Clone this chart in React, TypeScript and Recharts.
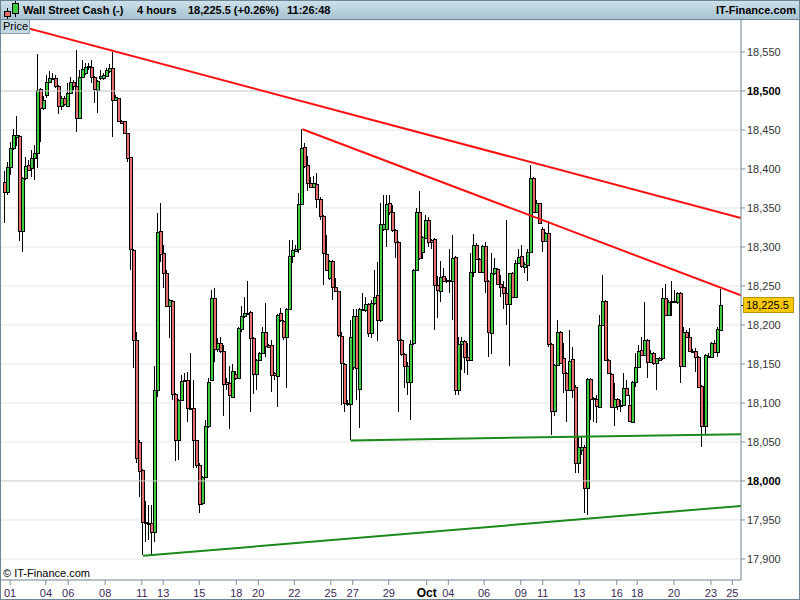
import React from 'react';
import { ComposedChart, Bar, XAxis, YAxis, CartesianGrid, ReferenceLine } from 'recharts';

// Wall Street Cash, 4 hour candles, 1 Sep -> 25 Oct
const opens = [
  18383, 18370, 18402, 18427, 18441, 18442, 18320, 18388, 18405, 18401,
  18414, 18421, 18502, 18478, 18495, 18512, 18517, 18517, 18506, 18481,
  18491, 18481, 18498, 18512, 18506, 18465, 18518, 18523, 18531, 18531,
  18518, 18501, 18516, 18516, 18519, 18525, 18530, 18489, 18491, 18462,
  18461, 18446, 18415, 18296, 18181, 18050, 18014, 17948, 17946, 17946,
  17935, 18116, 18320, 18292, 18267, 18224, 18231, 18111, 18053, 18104,
  18129, 18130, 18094, 18093, 18052, 18021, 17972, 18005, 18070, 18129,
  18234, 18169, 18177, 18166, 18127, 18125, 18108, 18137, 18132, 18195,
  18211, 18215, 18216, 18183, 18137, 18155, 18164, 18191, 18174, 18174,
  18138, 18135, 18215, 18205, 18184, 18221, 18288, 18295, 18297, 18355,
  18428, 18405, 18382, 18377, 18381, 18362, 18340, 18291, 18260, 18282,
  18249, 18243, 18186, 18150, 18100, 18099, 18146, 18211, 18118, 18220,
  18219, 18227, 18190, 18228, 18238, 18206, 18323, 18323, 18356, 18345,
  18322, 18306, 18181, 18163, 18127, 18127, 18177, 18271, 18345, 18294,
  18312, 18334, 18309, 18310, 18251, 18244, 18263, 18258, 18258, 18257,
  18287, 18117, 18175, 18179, 18159, 18155, 18268, 18303, 18284, 18268,
  18301, 18256, 18190, 18266, 18272, 18253, 18249, 18241, 18227, 18266,
  18236, 18280, 18288, 18274, 18277, 18294, 18388, 18345, 18356, 18323,
  18308, 18318, 18176, 18090, 18149, 18191, 18157, 18138, 18117, 18156,
  18121, 18023, 18040, 18044, 17991, 18131, 18106, 18105, 18095, 18200,
  18231, 18155, 18137, 18095, 18105, 18097, 18097, 18119, 18098, 18076,
  18127, 18146, 18168, 18162, 18181, 18153, 18164, 18151, 18157, 18157,
  18235, 18213, 18229, 18229, 18229, 18241, 18147, 18191, 18185, 18167,
  18167, 18159, 18122, 18070, 18160, 18159, 18177, 18165, 18193,
];
const highs = [
  18397, 18409, 18435, 18451, 18468, 18444, 18390, 18415, 18411, 18424,
  18431, 18547, 18504, 18493, 18521, 18525, 18523, 18521, 18508, 18493,
  18494, 18510, 18518, 18514, 18553, 18527, 18540, 18536, 18536, 18540,
  18519, 18514, 18527, 18523, 18529, 18534, 18550, 18495, 18491, 18463,
  18462, 18446, 18415, 18297, 18191, 18053, 18015, 17974, 17969, 17969,
  18147, 18343, 18356, 18303, 18271, 18233, 18232, 18113, 18105, 18136,
  18138, 18140, 18164, 18130, 18053, 18023, 18006, 18078, 18132, 18245,
  18248, 18183, 18185, 18174, 18132, 18147, 18150, 18141, 18197, 18224,
  18236, 18257, 18218, 18185, 18156, 18165, 18198, 18228, 18176, 18181,
  18140, 18214, 18222, 18206, 18222, 18309, 18309, 18303, 18369, 18451,
  18433, 18417, 18390, 18391, 18395, 18364, 18341, 18315, 18283, 18283,
  18260, 18244, 18191, 18151, 18104, 18206, 18221, 18221, 18222, 18241,
  18236, 18228, 18232, 18271, 18281, 18357, 18367, 18367, 18367, 18354,
  18323, 18308, 18182, 18164, 18153, 18181, 18272, 18350, 18372, 18314,
  18341, 18339, 18310, 18311, 18263, 18282, 18273, 18260, 18298, 18315,
  18288, 18185, 18185, 18181, 18177, 18292, 18317, 18305, 18286, 18303,
  18307, 18258, 18292, 18286, 18273, 18264, 18256, 18335, 18267, 18268,
  18283, 18298, 18303, 18281, 18298, 18405, 18390, 18360, 18357, 18326,
  18319, 18333, 18177, 18150, 18206, 18192, 18177, 18140, 18194, 18172,
  18123, 18058, 18058, 18046, 18132, 18132, 18108, 18110, 18213, 18264,
  18232, 18156, 18138, 18125, 18106, 18104, 18138, 18129, 18110, 18128,
  18164, 18174, 18185, 18229, 18182, 18168, 18165, 18158, 18159, 18247,
  18253, 18232, 18257, 18245, 18242, 18242, 18198, 18193, 18196, 18169,
  18171, 18160, 18123, 18163, 18164, 18178, 18181, 18197, 18246,
];
const lows = [
  18331, 18367, 18392, 18424, 18429, 18308, 18294, 18386, 18397, 18390,
  18386, 18401, 18435, 18476, 18491, 18510, 18514, 18504, 18471, 18476,
  18481, 18479, 18497, 18501, 18448, 18464, 18517, 18521, 18527, 18510,
  18484, 18472, 18514, 18514, 18518, 18523, 18441, 18487, 18460, 18458,
  18445, 18409, 18271, 18145, 18023, 17980, 17905, 17922, 17924, 17905,
  17922, 18108, 18281, 18248, 18223, 18183, 18104, 18025, 18027, 18103,
  18127, 18075, 18091, 18016, 18017, 17959, 17969, 18004, 18068, 18128,
  18152, 18165, 18164, 18083, 18117, 18066, 18106, 18129, 18131, 18191,
  18209, 18213, 18089, 18112, 18117, 18154, 18163, 18159, 18171, 18114,
  18129, 18095, 18204, 18181, 18119, 18220, 18279, 18294, 18292, 18354,
  18401, 18372, 18376, 18376, 18350, 18335, 18251, 18269, 18258, 18232,
  18242, 18185, 18097, 18089, 18096, 18053, 18142, 18104, 18068, 18218,
  18217, 18185, 18183, 18226, 18179, 18204, 18321, 18300, 18341, 18319,
  18286, 18089, 18160, 18119, 18110, 18078, 18174, 18270, 18283, 18285,
  18311, 18300, 18298, 18194, 18209, 18230, 18255, 18254, 18241, 18206,
  18110, 18110, 18142, 18139, 18136, 18154, 18262, 18283, 18267, 18267,
  18241, 18159, 18163, 18264, 18251, 18236, 18220, 18200, 18147, 18235,
  18235, 18278, 18273, 18266, 18256, 18292, 18344, 18344, 18330, 18294,
  18306, 18172, 18059, 18083, 18147, 18150, 18113, 18076, 18115, 18106,
  18010, 18010, 18033, 17959, 17956, 18078, 18075, 18074, 18094, 18199,
  18154, 18137, 18094, 18070, 18091, 18088, 18096, 18109, 18076, 18075,
  18121, 18145, 18161, 18160, 18132, 18152, 18149, 18117, 18154, 18155,
  18212, 18212, 18212, 18228, 18227, 18126, 18146, 18184, 18165, 18164,
  18140, 18119, 18044, 18059, 18158, 18158, 18164, 18159, 18192,
];
const closes = [
  18371, 18403, 18427, 18443, 18444, 18320, 18389, 18404, 18399, 18414,
  18421, 18501, 18478, 18489, 18512, 18516, 18516, 18506, 18481, 18491,
  18483, 18498, 18512, 18506, 18465, 18518, 18528, 18531, 18532, 18518,
  18502, 18513, 18519, 18521, 18527, 18529, 18489, 18492, 18461, 18459,
  18446, 18414, 18297, 18181, 18029, 18013, 17948, 17946, 17945, 17935,
  18116, 18319, 18291, 18267, 18224, 18232, 18112, 18053, 18104, 18128,
  18130, 18093, 18093, 18052, 18021, 17971, 18005, 18070, 18127, 18234,
  18169, 18177, 18166, 18124, 18124, 18110, 18141, 18132, 18196, 18211,
  18215, 18214, 18183, 18137, 18155, 18164, 18191, 18173, 18172, 18136,
  18136, 18213, 18206, 18184, 18221, 18288, 18296, 18297, 18355, 18427,
  18404, 18382, 18377, 18382, 18362, 18340, 18292, 18271, 18282, 18249,
  18243, 18187, 18151, 18100, 18099, 18184, 18211, 18145, 18220, 18221,
  18227, 18190, 18228, 18236, 18206, 18329, 18329, 18355, 18345, 18322,
  18306, 18181, 18163, 18147, 18147, 18175, 18271, 18345, 18286, 18313,
  18334, 18307, 18306, 18251, 18245, 18261, 18257, 18256, 18256, 18286,
  18117, 18175, 18179, 18159, 18155, 18268, 18303, 18284, 18268, 18301,
  18256, 18191, 18266, 18273, 18253, 18249, 18241, 18227, 18266, 18236,
  18280, 18287, 18275, 18278, 18294, 18388, 18345, 18356, 18331, 18308,
  18318, 18176, 18090, 18149, 18191, 18151, 18138, 18117, 18154, 18117,
  18023, 18044, 18044, 17991, 18131, 18105, 18105, 18096, 18200, 18231,
  18155, 18138, 18095, 18105, 18096, 18096, 18119, 18110, 18077, 18127,
  18146, 18167, 18162, 18181, 18153, 18164, 18151, 18157, 18155, 18235,
  18213, 18230, 18231, 18231, 18241, 18147, 18191, 18185, 18166, 18165,
  18159, 18120, 18070, 18162, 18159, 18177, 18165, 18195, 18225.5,
];

// date ticks, placed in candle-index units
const dateTicks = [1.8, 13.7, 21.1, 33.4, 45.6, 52.7, 64.7, 77.0, 84.3, 96.3, 108.4, 115.7, 127.7, 140.3, 147.5, 159.4, 171.6, 178.9, 191.0, 203.5, 210.3, 222.5, 234.8, 241.9];
const dateLabels = ['01', '04', '06', '08', '11', '13', '15', '18', '20', '22', '25', '27', '29', 'Oct', '04', '06', '09', '11', '13', '16', '18', '20', '23', '25'];

const priceTicks = [17900, 17950, 18000, 18050, 18100, 18150, 18200, 18250, 18300, 18350, 18400, 18450, 18500, 18550];
const majorPrices = [18000, 18500];

const lastPrice = 18225.5;

// trend lines: [index, price] pairs
const redTop = [[-1.56, 18590], [244.8, 18337]];
const redLow = [[99, 18451], [244.8, 18238]];
const greenTop = [[115, 18052], [244.8, 18060]];
const greenLow = [[46, 17904], [244.8, 17968]];

const X_DOMAIN = [-1.56, 244.8];
const Y_DOMAIN = [17873, 18591];

const data = opens.map((o, i) => ({
  i,
  open: o,
  high: highs[i],
  low: lows[i],
  close: closes[i],
  range: [lows[i], highs[i]],
}));

const FONT = 'Arial, "Liberation Sans", sans-serif';

const Candle = (props: any) => {
  const { x, y, width, height, payload } = props;
  if (!payload || height == null) return null;
  const { open, close, high, low } = payload;
  const top = Math.min(y, y + height);
  const h = Math.abs(height);
  const cx = Math.round(x + width / 2) - 2;
  const py = (v: number) => (high === low ? top : top + ((high - v) / (high - low)) * h);
  const bTop = Math.round(py(Math.max(open, close)));
  const bBot = Math.round(py(Math.min(open, close)));
  const up = close >= open;
  return (
    <g>
      <line x1={cx + 1.5} x2={cx + 1.5} y1={Math.round(top)} y2={Math.round(top + h)} stroke="#000" strokeWidth={1} />
      <rect
        x={cx + 0.5}
        y={bTop + 0.5}
        width={3}
        height={Math.max(bBot - bTop, 1)}
        fill={up ? '#3dcc3d' : '#e86a6a'}
        stroke="#000"
        strokeWidth={1}
      />
    </g>
  );
};

const DateTick = (props: any) => {
  const { x, y, payload } = props;
  const idx = dateTicks.indexOf(payload.value);
  const label = dateLabels[idx] ?? '';
  const isMonth = label === 'Oct';
  return (
    <text
      x={x}
      y={y + 10}
      textAnchor="middle"
      fontFamily={FONT}
      fontSize={isMonth ? 12 : 11}
      fontWeight={isMonth ? 'bold' : 'normal'}
      fill={isMonth ? '#000' : '#3b2a58'}
    >
      {label}
    </text>
  );
};

const PriceTick = (props: any) => {
  const { x, y, payload } = props;
  const major = majorPrices.includes(payload.value);
  return (
    <text
      x={x}
      y={y + 4}
      textAnchor="start"
      fontFamily={FONT}
      fontSize={11}
      fontWeight={major ? 'bold' : 'normal'}
      fill={major ? '#000' : '#333'}
    >
      {payload.value.toLocaleString('en-US')}
    </text>
  );
};

const PriceTag = (props: any) => {
  const vb = props.viewBox || {};
  const right = (vb.x || 0) + (vb.width || 0);
  const cy = Math.round(vb.y || 0);
  return (
    <g>
      <line x1={right} x2={right + 5} y1={cy + 0.5} y2={cy + 0.5} stroke="#000" />
      <rect x={right + 2.5} y={cy - 7.5} width={50} height={15} fill="#f9c800" stroke="#b89400" />
      <text x={right + 5} y={cy + 4} fontFamily={FONT} fontSize={11} fill="#000">
        {lastPrice.toLocaleString('en-US', { minimumFractionDigits: 1 })}
      </text>
    </g>
  );
};

const seg = (pts: number[][]) => pts.map(([x, y]) => ({ x, y }));

export default function App() {
  return (
    <div style={{ position: 'relative', width: 800, height: 600, background: '#fff', overflow: 'hidden', fontFamily: FONT }}>
      <style>{'body{margin:0}'}</style>
      <ComposedChart width={800} height={600} data={data} margin={{ top: 20, right: 0, bottom: 0, left: 0 }}>
        <CartesianGrid vertical={false} stroke="#e6e6e6" />
        <XAxis
          dataKey="i"
          type="number"
          domain={X_DOMAIN}
          allowDataOverflow
          ticks={dateTicks}
          interval={0}
          tick={<DateTick />}
          tickSize={5}
          tickLine={{ stroke: '#7d8f9d' }}
          axisLine={{ stroke: '#7d8f9d' }}
          height={20}
        />
        <YAxis
          type="number"
          orientation="right"
          domain={Y_DOMAIN}
          allowDataOverflow
          ticks={priceTicks}
          interval={0}
          tick={<PriceTick />}
          tickSize={4}
          tickMargin={2}
          tickLine={{ stroke: '#7d8f9d' }}
          axisLine={{ stroke: '#6e8595' }}
          width={59}
        />
        {majorPrices.map((p) => (
          <ReferenceLine key={p} y={p} stroke="#d2d2d2" />
        ))}
        <Bar dataKey="range" barSize={3} shape={<Candle />} isAnimationActive={false} />
        <ReferenceLine segment={seg(redTop)} stroke="#ff1010" strokeWidth={2} ifOverflow="hidden" />
        <ReferenceLine segment={seg(redLow)} stroke="#ff1010" strokeWidth={2} ifOverflow="hidden" />
        <ReferenceLine segment={seg(greenTop)} stroke="#1a8a1a" strokeWidth={2} ifOverflow="hidden" />
        <ReferenceLine segment={seg(greenLow)} stroke="#1a8a1a" strokeWidth={2} ifOverflow="hidden" />
        <ReferenceLine y={lastPrice} stroke="none" label={(p: any) => <PriceTag {...p} />} />
      </ComposedChart>

      {/* header bar */}
      <div
        style={{
          position: 'absolute', left: 0, top: 0, width: 800, height: 20, boxSizing: 'border-box',
          background: 'linear-gradient(#cfe2ea, #a6c3d1)', borderBottom: '1px solid #6e8797',
          fontSize: 11, fontWeight: 'bold', color: '#000', lineHeight: '20px',
        }}
      >
        <svg width={20} height={20} style={{ position: 'absolute', left: 1, top: 0 }}>
          <line x1={6.5} x2={6.5} y1={8} y2={19} stroke="#000" />
          <rect x={3.5} y={11.5} width={6} height={5} fill="#e86a6a" stroke="#000" />
          <line x1={14.5} x2={14.5} y1={1} y2={17} stroke="#000" />
          <rect x={11.5} y={3.5} width={6} height={10} fill="#3dcc3d" stroke="#000" />
        </svg>
        <span style={{ position: 'absolute', left: 23, top: 0 }}>Wall Street Cash (-)</span>
        <span style={{ position: 'absolute', left: 137, top: 0 }}>4 hours</span>
        <span style={{ position: 'absolute', left: 188, top: 0 }}>18,225.5 (+0.26%)</span>
        <span style={{ position: 'absolute', left: 287, top: 0 }}>11:26:48</span>
        <span style={{ position: 'absolute', right: 4, top: 0 }}>IT-Finance.com</span>
      </div>

      {/* series label */}
      <div
        style={{
          position: 'absolute', left: 0, top: 20, width: 30, height: 14, boxSizing: 'border-box',
          background: '#c3d7e1', border: '1px solid #8aa2b1', borderTop: 'none',
          fontSize: 11, lineHeight: '13px', paddingLeft: 2, color: '#000',
        }}
      >
        Price
      </div>

      <div style={{ position: 'absolute', left: 3, top: 567, fontSize: 11, color: '#000' }}>© IT-Finance.com</div>

      {/* outer frame */}
      <div
        style={{
          position: 'absolute', left: 0, top: 0, width: 800, height: 600, boxSizing: 'border-box',
          border: '1px solid #6e8797', pointerEvents: 'none',
        }}
      />
    </div>
  );
}
